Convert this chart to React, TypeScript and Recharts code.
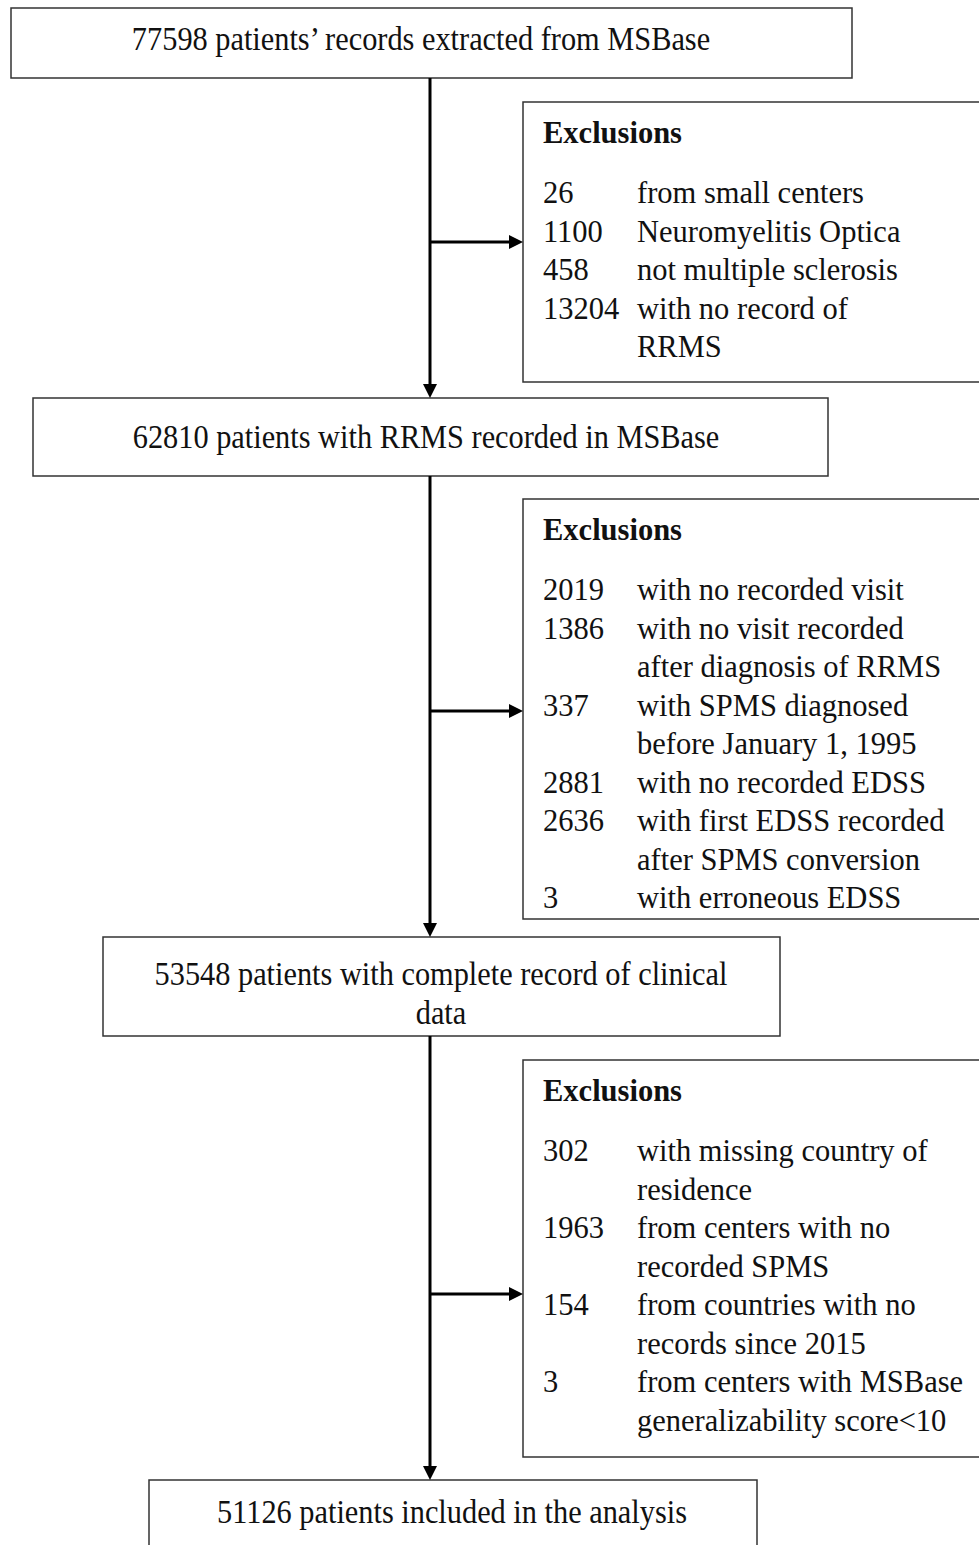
import React from "react";
import { ComposedChart, XAxis, YAxis, Scatter, ReferenceArea, ReferenceLine, ReferenceDot } from "recharts";

// flow stages (main column)
const stageCounts = [77598, 62810, 53548, 51126];
const stageLabels = [
  ["patients’ records extracted from MSBase"],
  ["patients with RRMS recorded in MSBase"],
  ["patients with complete record of clinical", "data"],
  ["patients included in the analysis"],
];

// exclusion lists
const excl1Counts = [26, 1100, 458, 13204];
const excl1Labels = [
  ["from small centers"],
  ["Neuromyelitis Optica"],
  ["not multiple sclerosis"],
  ["with no record of", "RRMS"],
];
const excl2Counts = [2019, 1386, 337, 2881, 2636, 3];
const excl2Labels = [
  ["with no recorded visit"],
  ["with no visit recorded", "after diagnosis of RRMS"],
  ["with SPMS diagnosed", "before January 1, 1995"],
  ["with no recorded EDSS"],
  ["with first EDSS recorded", "after SPMS conversion"],
  ["with erroneous EDSS"],
];
const excl3Counts = [302, 1963, 154, 3];
const excl3Labels = [
  ["with missing country of", "residence"],
  ["from centers with no", "recorded SPMS"],
  ["from countries with no", "records since 2015"],
  ["from centers with MSBase", "generalizability score<10"],
];
const exclCounts = [excl1Counts, excl2Counts, excl3Counts];
const exclLabels = [excl1Labels, excl2Labels, excl3Labels];

// layout (pixel space of the figure)
const W = 979;
const H = 1545;
const FONT = "'Liberation Serif', 'Times New Roman', serif";
const spineX = 430;
const stageBoxes = [
  { x1: 11, x2: 852, y1: 8, y2: 78, textX: 421, textY: 39 },
  { x1: 33, x2: 828, y1: 398, y2: 476, textX: 426, textY: 437 },
  { x1: 103, x2: 780, y1: 937, y2: 1036, textX: 441, textY: 974 },
  { x1: 149, x2: 757, y1: 1480, y2: 1570, textX: 452, textY: 1512 },
];
const exclBoxes = [
  { y1: 102, y2: 382, branchY: 242 },
  { y1: 499, y2: 919, branchY: 711 },
  { y1: 1060, y2: 1457, branchY: 1294 },
];
const exclX1 = 523;
const exclX2 = 990;
const numX = 543;
const descX = 637;
const rowStep = 38.55;
const lineStep = 39;
const arrowLen = 14;

type TextItem = { x: number; y: number; text: string; bold?: boolean; main?: boolean; anchor: "start" | "middle" };

function buildTexts(): TextItem[] {
  const out: TextItem[] = [];
  stageBoxes.forEach((b, i) => {
    stageLabels[i].forEach((line, j) => {
      out.push({
        x: b.textX,
        y: b.textY + j * lineStep,
        text: j === 0 ? `${stageCounts[i]} ${line}` : line,
        anchor: "middle",
        main: true,
      });
    });
  });
  exclBoxes.forEach((b, i) => {
    out.push({ x: numX, y: b.y1 + 31, text: "Exclusions", bold: true, anchor: "start" });
    let row = 0;
    exclCounts[i].forEach((c, k) => {
      out.push({ x: numX, y: b.y1 + 91 + row * rowStep, text: String(c), anchor: "start" });
      exclLabels[i][k].forEach((line) => {
        out.push({ x: descX, y: b.y1 + 91 + row * rowStep, text: line, anchor: "start" });
        row++;
      });
    });
  });
  return out;
}

const texts = buildTexts();

const TextShape = (props: any) => {
  const { cx, cy, payload } = props;
  // stage boxes use a taller, slightly condensed face
  const sx = payload.main ? 0.92 : 1;
  return (
    <text
      x={0}
      y={0}
      transform={`translate(${cx},${cy}) scale(${sx},1)`}
      textAnchor={payload.anchor}
      dominantBaseline="central"
      fontFamily={FONT}
      fontSize={payload.main ? 33 : 30.5}
      fontWeight={payload.bold ? 700 : 400}
      fill="#111"
    >
      {payload.text}
    </text>
  );
};

const arrowHead = (dir: "down" | "right") => (props: any) => {
  const { cx, cy } = props;
  const pts =
    dir === "down"
      ? `${cx},${cy} ${cx - 7},${cy - arrowLen} ${cx + 7},${cy - arrowLen}`
      : `${cx},${cy} ${cx - arrowLen},${cy - 7} ${cx - arrowLen},${cy + 7}`;
  return <polygon points={pts} fill="#000" />;
};

export default function App() {
  return (
    <div style={{ width: W, height: H, background: "#fff" }}>
      <style>{"body{margin:0;background:#fff}"}</style>
      <ComposedChart width={W} height={H} margin={{ top: 0, right: 0, bottom: 0, left: 0 }} data={texts}>
        <XAxis dataKey="x" type="number" domain={[0, W]} hide />
        <YAxis dataKey="y" type="number" domain={[0, H]} reversed hide />

        {stageBoxes.map((b, i) => (
          <ReferenceArea
            key={`s${i}`}
            x1={b.x1}
            x2={b.x2}
            y1={b.y1}
            y2={b.y2}
            ifOverflow="visible"
            fill="#fff"
            fillOpacity={1}
            stroke="#333"
            strokeWidth={1.5}
          />
        ))}
        {exclBoxes.map((b, i) => (
          <ReferenceArea
            key={`e${i}`}
            x1={exclX1}
            x2={exclX2}
            y1={b.y1}
            y2={b.y2}
            ifOverflow="visible"
            fill="#fff"
            fillOpacity={1}
            stroke="#333"
            strokeWidth={1.5}
          />
        ))}

        {stageBoxes.slice(0, -1).map((b, i) => (
          <ReferenceLine
            key={`v${i}`}
            segment={[
              { x: spineX, y: b.y2 },
              { x: spineX, y: stageBoxes[i + 1].y1 - arrowLen + 2 },
            ]}
            stroke="#000"
            strokeWidth={3}
          />
        ))}
        {stageBoxes.slice(1).map((b, i) => (
          <ReferenceDot key={`va${i}`} x={spineX} y={b.y1} r={0} shape={arrowHead("down")} />
        ))}
        {exclBoxes.map((b, i) => (
          <ReferenceLine
            key={`h${i}`}
            segment={[
              { x: spineX, y: b.branchY },
              { x: exclX1 - arrowLen + 2, y: b.branchY },
            ]}
            stroke="#000"
            strokeWidth={3}
          />
        ))}
        {exclBoxes.map((b, i) => (
          <ReferenceDot key={`ha${i}`} x={exclX1} y={b.branchY} r={0} shape={arrowHead("right")} />
        ))}

        <Scatter data={texts} shape={TextShape} isAnimationActive={false} />
      </ComposedChart>
    </div>
  );
}
